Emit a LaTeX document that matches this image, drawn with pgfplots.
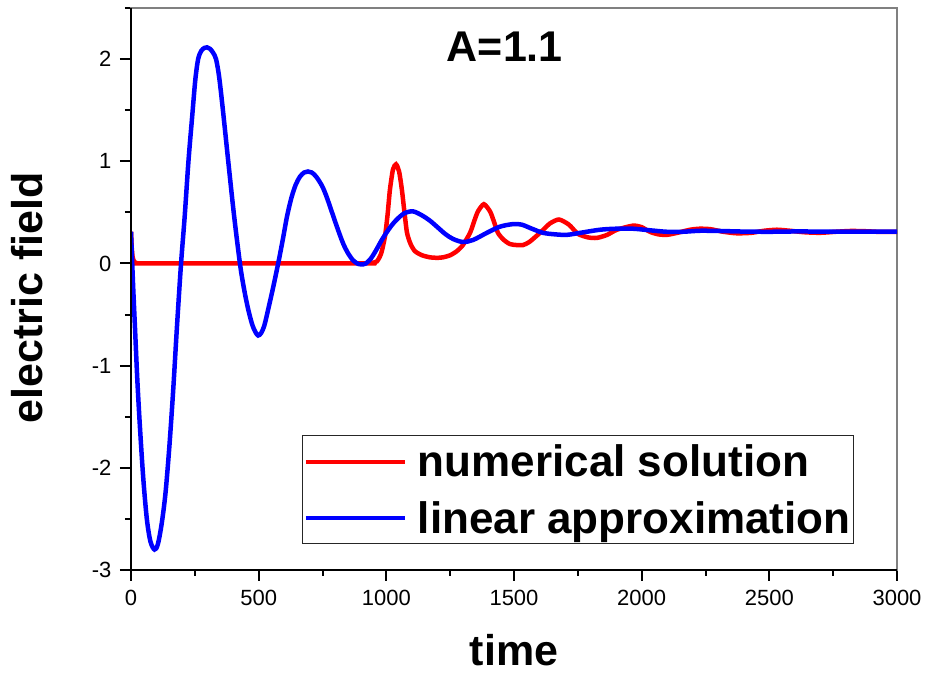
\documentclass[border=0pt]{standalone}
\usepackage{fontspec}
\setmainfont{Liberation Sans}
\usepackage{pgfplots}
\pgfplotsset{compat=1.18}
\begin{document}
\begin{tikzpicture}
\begin{axis}[name=ax, scale only axis, width=766pt, height=562pt,
  xmin=0, xmax=3000, ymin=-3, ymax=2.5,
  xtick={0,500,...,3000}, ytick={-3,-2,...,2},
  minor xtick={250,750,...,2750}, minor ytick={-2.5,-1.5,...,2.5},
  tick align=outside, xtick pos=bottom, ytick pos=left,
  major tick length=11pt, minor tick length=6pt,
  every tick/.style={black, line width=2pt},
  axis line style={draw=gray, line width=1.5pt},
  ticklabel style={font=\fontsize{22}{26}\selectfont},
  xticklabel style={yshift=-6pt},
  yticklabel style={xshift=-5pt},
  /pgf/number format/assume math mode=true,
  /pgf/number format/1000 sep={},
  xlabel={time}, ylabel={electric field},
  label style={font=\fontsize{43}{50}\selectfont\bfseries},
  xlabel style={at={(axis description cs:0.5,-0.142)}, anchor=center},
  ylabel style={at={(axis description cs:-0.136,0.484)}, anchor=center},
  legend style={at={(0.944,0.046)}, anchor=south east, draw=black!85, line width=1pt,
    font=\fontsize{44}{50}\selectfont\bfseries, inner xsep=1pt, inner ysep=7pt,
    row sep=19pt, nodes={inner sep=2pt}, cells={anchor=west}},
  /tikz/every odd column/.append style={column sep=9pt},
  legend image code/.code={\draw[#1, line width=4pt] (0pt,0pt) -- (99pt,0pt);},
]
\addplot[red, line width=4.5pt, smooth, tension=0.4] coordinates {
(0,0.31) (3,0.15) (6,0.07) (10,0.03) (15,0.01) (25,0.002) (40,0) (900,0) (940,0.005)
(963,0.02) (980,0.1) (995,0.27) (1005,0.48) (1014,0.72) (1026,0.92) (1038,0.97)
(1050,0.9) (1061,0.72) (1071,0.5) (1081,0.30) (1095,0.19) (1112,0.12) (1140,0.08)
(1171,0.06) (1200,0.055) (1222,0.06) (1250,0.08) (1276,0.12) (1300,0.18) (1328,0.30)
(1345,0.42) (1359,0.51) (1382,0.58) (1406,0.51) (1420,0.42) (1437,0.30) (1460,0.23)
(1484,0.19) (1510,0.18) (1535,0.18) (1560,0.21) (1602,0.30) (1640,0.39) (1676,0.43)
(1715,0.38) (1750,0.29) (1790,0.255) (1825,0.25) (1865,0.28) (1903,0.33) (1966,0.37)
(2000,0.355) (2032,0.31) (2065,0.285) (2099,0.28) (2140,0.30) (2190,0.33) (2228,0.34)
(2270,0.335) (2320,0.31) (2373,0.295) (2430,0.30) (2480,0.32) (2530,0.33) (2580,0.32)
(2640,0.305) (2700,0.30) (2760,0.31) (2820,0.318) (2880,0.315) (2940,0.308) (3000,0.31)
};
\addlegendentry{numerical solution}
\addplot[blue, line width=4.5pt, smooth, tension=0.5] coordinates {
(0,0.31) (8,-0.2) (16,-0.65) (25,-1.15) (35,-1.6) (48,-2.1) (62,-2.5) (76,-2.72)
(92,-2.8) (105,-2.75) (120,-2.55) (135,-2.25) (150,-1.8) (165,-1.25) (180,-0.62)
(196,0) (210,0.45) (225,1.0) (240,1.45) (252,1.8) (263,2.0) (275,2.08) (288,2.11)
(298,2.115) (310,2.10) (322,2.06) (333,2.0) (345,1.83) (360,1.5) (380,1.02) (400,0.55)
(415,0.23) (430,-0.06) (445,-0.28) (460,-0.46) (475,-0.6) (487,-0.67) (498,-0.705)
(510,-0.68) (523,-0.6) (540,-0.42) (558,-0.22) (578,0.02) (595,0.24) (611,0.46)
(628,0.64) (645,0.77) (662,0.85) (678,0.89) (693,0.9) (708,0.89) (725,0.85) (748,0.76)
(765,0.66) (779,0.56) (805,0.37) (830,0.2) (850,0.1) (870,0.03) (890,-0.005) (903,-0.01)
(920,0.0) (940,0.05) (960,0.13) (980,0.22) (1000,0.30) (1020,0.37) (1041,0.43)
(1070,0.49) (1104,0.51) (1140,0.47) (1170,0.42) (1198,0.36) (1230,0.29) (1261,0.24)
(1300,0.21) (1340,0.23) (1394,0.30) (1445,0.36) (1496,0.385) (1530,0.38) (1570,0.34)
(1613,0.30) (1660,0.285) (1707,0.28) (1760,0.30) (1837,0.33) (1900,0.34) (1966,0.34)
(2030,0.325) (2099,0.31) (2160,0.31) (2228,0.32) (2300,0.318) (2400,0.312) (2500,0.31)
(2600,0.313) (2700,0.312) (2800,0.311) (2900,0.311) (3000,0.312)
};
\addlegendentry{linear approximation}
\node[font=\fontsize{43}{50}\selectfont\bfseries] at (rel axis cs:0.488,0.932) {A=1.1};
\end{axis}
\draw[black, line width=2.5pt] (ax.north west) -- (ax.south west) -- (ax.south east);
\path (ax.south west) +(-131pt,-103pt) (ax.north east) +(29pt,8pt);
\end{tikzpicture}
\end{document}
